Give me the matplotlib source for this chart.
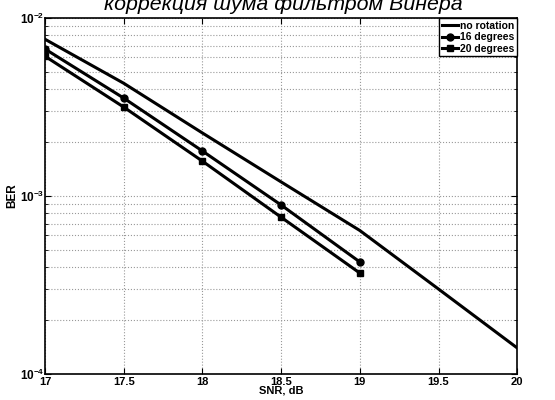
import matplotlib.pyplot as plt
import numpy as np

snr = [17, 17.5, 18, 18.5, 19, 19.5, 20]
ber_no_rot = [7.6e-3, 4.3e-3, 2.26e-3, 1.2e-3, 6.4e-4, 3.0e-4, 1.4e-4]

snr_rot = [17, 17.5, 18, 18.5, 19]
ber_16 = [6.7e-3, 3.55e-3, 1.79e-3, 8.9e-4, 4.26e-4]
ber_20 = [6.1e-3, 3.16e-3, 1.57e-3, 7.6e-4, 3.69e-4]

xticks = [17, 17.5, 18, 18.5, 19, 19.5, 20]
xticklabels = ['17', '17.5', '18', '18.5', '19', '19.5', '20']

plt.rcParams['font.family'] = ['Liberation Sans', 'DejaVu Sans']
plt.rcParams['font.weight'] = 'bold'
plt.rcParams['mathtext.fontset'] = 'custom'
plt.rcParams['mathtext.bf'] = 'Liberation Sans:bold'
plt.rcParams['mathtext.rm'] = 'Liberation Sans:bold'
plt.rcParams['mathtext.default'] = 'bf'

fig = plt.figure(figsize=(5.55, 4.0), dpi=100)
ax = fig.add_axes([0.081, 0.065, 0.851, 0.89])

ax.semilogy(snr, ber_no_rot, color='black', lw=2.2, label='no rotation')
ax.semilogy(snr_rot, ber_16, color='black', lw=2.2, marker='o', ms=5, label='16 degrees')
ax.semilogy(snr_rot, ber_20, color='black', lw=2.2, marker='s', ms=4.5, label='20 degrees')

ax.set_xlim(17, 20)
ax.set_ylim(1e-4, 1e-2)
ax.set_xticks(xticks)
ax.set_xticklabels(xticklabels, fontsize=8, fontweight='bold')
ax.set_yticks([1e-4, 1e-3, 1e-2])
ax.set_yticklabels([r'$10^{-4}$', r'$10^{-3}$', r'$10^{-2}$'], fontsize=8.5)
ax.tick_params(direction='in', which='both', top=True, right=True, pad=2)
ax.tick_params(axis='y', pad=0.5)
ax.tick_params(which='minor', length=2)
ax.tick_params(which='major', length=4)

ax.grid(True, which='major', color='#999999', ls=':', lw=0.8)
ax.grid(True, which='minor', axis='y', color='#999999', ls=':', lw=0.8)
for s in ax.spines.values():
    s.set_linewidth(1.2)

ax.set_xlabel('SNR, dB', fontsize=8, fontweight='bold', labelpad=-1)
ax.set_ylabel('BER', fontsize=8.5, fontweight='bold')
ax.yaxis.set_label_coords(-0.057, 0.5)

leg = ax.legend(loc='upper right', fontsize=7.5, handlelength=1.6, handletextpad=0.2,
                borderpad=0.25, labelspacing=0.15, borderaxespad=0.0, fancybox=False,
                framealpha=1, edgecolor='black')
leg.get_frame().set_linewidth(1.0)
for t in leg.get_texts():
    t.set_fontweight('bold')

fig.text(0.511, 1 - 10 / 400, 'коррекция шума фильтром Винера', ha='center', va='baseline',
         fontsize=15.4, style='italic', fontweight='normal')

fig.savefig('out.png', dpi=100)
